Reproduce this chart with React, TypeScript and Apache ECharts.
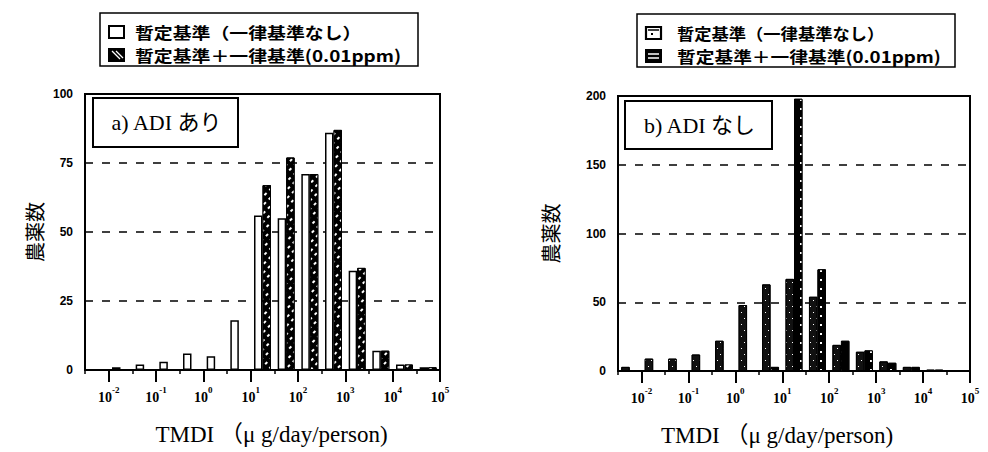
import { useEffect, useRef } from 'react';
import * as echarts from 'echarts';

// Half-decade TMDI bins, given by log10 of each bin's lower edge (µg/day/person)
const binStarts = [-2.5, -2, -1.5, -1, -0.5, 0, 0.5, 1, 1.5, 2, 2.5, 3, 3.5, 4, 4.5];
// Decades that carry a "10^n" label on the x axis
const decadeExponents = [-2, -1, 0, 1, 2, 3, 4, 5];

// a) pesticides with an ADI: number of pesticides per bin
const adiProvisional = [0, 1, 2, 3, 6, 5, 18, 56, 55, 71, 86, 36, 7, 2, 1];
const adiWithUniform = [0, 0, 0, 0, 0, 0, 0, 67, 77, 71, 87, 37, 7, 2, 1];
// b) pesticides without an ADI
const noAdiProvisional = [3, 9, 9, 12, 22, 48, 63, 67, 54, 19, 14, 7, 3, 1, 0];
const noAdiWithUniform = [0, 0, 0, 0, 0, 0, 3, 198, 74, 22, 15, 6, 3, 1, 0];

const seriesNames = ['暫定基準（一律基準なし）', '暫定基準＋一律基準(0.01ppm)'];
const panelTitles = ['a) ADI あり', 'b) ADI なし'];
const countMax = [100, 200];
const countStep = [25, 50];
const xAxisTitle = 'TMDI （μ g/day/person)';
const yAxisTitle = '農薬数';

const SERIF = '"Liberation Serif", "Times New Roman", "Noto Sans CJK JP", serif';
const GOTHIC = '"Noto Sans CJK JP", sans-serif';
const SANS = '"Liberation Sans", Arial, sans-serif';

const hatch = {
  symbol: 'rect',
  symbolSize: 1,
  color: '#fff',
  dashArrayX: [[2.5, 4]],
  dashArrayY: [1.3, 4],
  rotation: -Math.PI / 4,
};
const stipple = {
  symbol: 'rect',
  symbolSize: 1,
  color: '#fff',
  dashArrayX: [[1, 5], [0, 3, 1, 2]],
  dashArrayY: [1, 5],
};
const dotColumn = {
  symbol: 'rect',
  symbolSize: 1,
  color: '#fff',
  dashArrayX: [1.5, 8],
  dashArrayY: [1.5, 7],
};

const panels = [
  {
    grid: { left: 85, top: 94, width: 355, height: 276 },
    yNameGap: 41,
    xNamePad: [0, 0, 0, 18],
    values: [adiProvisional, adiWithUniform],
    styles: [
      { color: '#fff', borderColor: '#000', borderWidth: 1.5 },
      { color: '#000', borderColor: '#000', borderWidth: 1, decal: hatch },
    ],
  },
  {
    grid: { left: 618, top: 96, width: 352, height: 276 },
    yNameGap: 58,
    xNamePad: [0, 34, 0, 0],
    values: [noAdiProvisional, noAdiWithUniform],
    styles: [
      { color: '#111', borderColor: '#000', borderWidth: 1, decal: stipple },
      { color: '#000', borderColor: '#000', borderWidth: 1, decal: dotColumn },
    ],
  },
];

function legendBlock(x: number, y: number, variant: number, textScale: number[]) {
  const black = '#000';
  const icons: any[] = [];
  const ix = x + 9;
  const row1 = y + 19;
  const row2 = y + 42;
  if (variant === 0) {
    icons.push({ type: 'rect', shape: { x: ix, y: row1 - 6, width: 15, height: 12 }, style: { fill: '#fff', stroke: black, lineWidth: 2 } });
    icons.push({ type: 'rect', shape: { x: ix, y: row2 - 6, width: 15, height: 12 }, style: { fill: black, stroke: black, lineWidth: 2 } });
    icons.push({ type: 'line', shape: { x1: ix + 3, y1: row2 - 4, x2: ix + 11, y2: row2 + 4 }, style: { stroke: '#fff', lineWidth: 1.2 } });
    icons.push({ type: 'line', shape: { x1: ix + 7, y1: row2 - 4, x2: ix + 14, y2: row2 + 3 }, style: { stroke: '#fff', lineWidth: 1.2 } });
  } else {
    icons.push({ type: 'rect', shape: { x: ix, y: row1 - 6, width: 15, height: 12 }, style: { fill: '#fff', stroke: black, lineWidth: 2.2 } });
    icons.push({ type: 'line', shape: { x1: ix + 2, y1: row1 - 3, x2: ix + 13, y2: row1 - 3 }, style: { stroke: black, lineWidth: 1.5 } });
    icons.push({ type: 'rect', shape: { x: ix + 5, y: row1, width: 2, height: 2 }, style: { fill: black } });
    icons.push({ type: 'rect', shape: { x: ix, y: row2 - 6, width: 15, height: 12 }, style: { fill: black, stroke: black, lineWidth: 2 } });
    icons.push({ type: 'line', shape: { x1: ix + 2, y1: row2 - 2, x2: ix + 13, y2: row2 - 2 }, style: { stroke: '#fff', lineWidth: 1.5 } });
    icons.push({ type: 'line', shape: { x1: ix + 2, y1: row2 + 2, x2: ix + 13, y2: row2 + 2 }, style: { stroke: '#fff', lineWidth: 1.5 } });
  }
  const texts = seriesNames.map((name, k) => ({
    type: 'text',
    x: x + 35 + (variant === 1 ? 5 : 0),
    y: k === 0 ? row1 : row2,
    scaleX: textScale[k],
    style: {
      text: name,
      fontFamily: GOTHIC,
      fontWeight: 'bold',
      fontSize: 16,
      fill: black,
      align: 'left',
      verticalAlign: 'middle',
      textAlign: 'left',
      textVerticalAlign: 'middle',
    },
  }));
  return [
    { type: 'rect', shape: { x, y, width: 318, height: 53 }, style: { fill: '#fff', stroke: black, lineWidth: 1.5 } },
    ...icons,
    ...texts,
  ];
}

function titleBox(x: number, y: number, w: number, h: number, text: string) {
  return [
    { type: 'rect', shape: { x, y, width: w, height: h }, style: { fill: '#fff', stroke: '#000', lineWidth: 2 } },
    {
      type: 'text',
      x: x + w / 2 + 1,
      y: y + h / 2,
      style: {
        text,
        fontFamily: SERIF,
        fontSize: 22,
        fill: '#000',
        align: 'center',
        verticalAlign: 'middle',
        textAlign: 'center',
        textVerticalAlign: 'middle',
      },
    },
  ];
}

export default function App() {
  const ref = useRef<HTMLDivElement>(null);

  useEffect(() => {
    if (!ref.current) return;
    const chart = echarts.init(ref.current, null, { renderer: 'svg' });

    const grids: any[] = [];
    const xAxes: any[] = [];
    const yAxes: any[] = [];
    const series: any[] = [];
    const xMin = binStarts[0];
    const xMax = decadeExponents[decadeExponents.length - 1];

    panels.forEach((p, i) => {
      grids.push({
        ...p.grid,
        show: true,
        borderColor: '#000',
        borderWidth: 2,
        backgroundColor: 'transparent',
      });
      // category axis carrying the bars
      xAxes.push({
        type: 'category',
        gridIndex: i,
        position: 'bottom',
        data: binStarts.map(String),
        boundaryGap: true,
        axisLine: { show: true, onZero: false, lineStyle: { color: '#000', width: 2 } },
        axisTick: { show: false },
        axisLabel: { show: false },
        splitLine: { show: false },
      });
      // log10 axis: long decade ticks, 10^n labels and the title
      xAxes.push({
        type: 'value',
        gridIndex: i,
        position: 'bottom',
        min: xMin,
        max: xMax,
        axisLine: { show: false, onZero: false },
        axisTick: { show: true, customValues: decadeExponents, length: 12, lineStyle: { color: '#000', width: 2 } },
        splitLine: { show: false },
        axisLabel: {
          customValues: decadeExponents,
          margin: 15,
          color: '#000',
          formatter: (v: number) => `{b|10}{s|${v}}`,
          rich: {
            b: { fontFamily: SERIF, fontSize: 14, fontWeight: 'bold', lineHeight: 19, verticalAlign: 'bottom', color: '#000' },
            s: { fontFamily: SERIF, fontSize: 9, fontWeight: 'bold', lineHeight: 19, verticalAlign: 'top', color: '#000' },
          },
        },
        name: xAxisTitle,
        nameLocation: 'middle',
        nameGap: 53,
        nameTextStyle: { fontFamily: SERIF, fontSize: 23, color: '#000', padding: p.xNamePad },
      });
      // log10 axis: short half-decade ticks
      xAxes.push({
        type: 'value',
        gridIndex: i,
        position: 'bottom',
        min: xMin,
        max: xMax,
        interval: 0.5,
        axisLine: { show: false, onZero: false },
        axisTick: { show: true, length: 4, lineStyle: { color: '#000', width: 1.5 } },
        axisLabel: { show: false },
        splitLine: { show: false },
      });
      yAxes.push({
        type: 'value',
        gridIndex: i,
        min: 0,
        max: countMax[i],
        interval: countStep[i],
        axisLine: { show: true, onZero: false, lineStyle: { color: '#000', width: 2 } },
        axisTick: { show: false },
        axisLabel: { fontFamily: SANS, fontWeight: 'bold', fontSize: 12, color: '#000', margin: 12 },
        splitLine: { show: true, lineStyle: { color: '#000', width: 1.5, type: [8, 9] } },
        name: yAxisTitle,
        nameLocation: 'middle',
        nameGap: p.yNameGap,
        nameRotate: 90,
        nameTextStyle: { fontFamily: GOTHIC, fontSize: 20, color: '#000' },
      });
      p.values.forEach((vals, k) => {
        series.push({
          type: 'bar',
          name: seriesNames[k],
          xAxisIndex: i * 3,
          yAxisIndex: i,
          data: vals,
          barWidth: 8.5,
          barGap: '0%',
          itemStyle: p.styles[k],
        });
      });
    });

    chart.setOption({
      animation: false,
      backgroundColor: '#fff',
      grid: grids,
      xAxis: xAxes,
      yAxis: yAxes,
      series,
      graphic: {
        elements: [
          ...legendBlock(100, 13, 0, [1.18, 1.18]),
          ...legendBlock(637, 14, 1, [1.08, 1.17]),
          ...titleBox(93, 98, 145, 49, panelTitles[0]),
          ...titleBox(625, 101, 147, 48, panelTitles[1]),
        ].map((el) => ({ ...el, z: 100 })),
      },
    });

    return () => chart.dispose();
  }, []);

  return <div ref={ref} style={{ position: 'absolute', left: 0, top: 0, width: 988, height: 452 }} />;
}
